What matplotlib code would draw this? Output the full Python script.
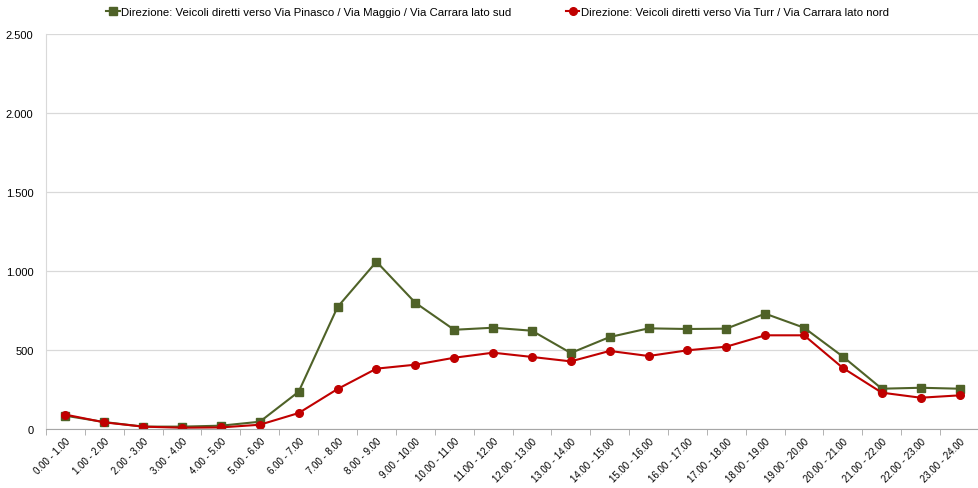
import numpy as np
import matplotlib
matplotlib.use('Agg')
import matplotlib.pyplot as plt
from matplotlib.ticker import FuncFormatter, FixedLocator

plt.rcParams['font.family'] = ['Liberation Sans', 'DejaVu Sans']

fasce = ['%d.00 - %d.00' % (h, h + 1) for h in range(24)]

sud = [84, 44, 15, 15, 21, 46, 236, 772, 1059, 799, 628, 641,
       622, 481, 582, 637, 633, 635, 730, 641, 458, 255, 261, 255]
nord = [91, 42, 15, 8, 10, 27, 101, 253, 382, 407, 451, 483,
        456, 428, 494, 462, 498, 521, 593, 593, 386, 230, 198, 213]

lab_sud = 'Direzione: Veicoli diretti verso Via Pinasco / Via Maggio / Via Carrara lato sud'
lab_nord = 'Direzione: Veicoli diretti verso Via Turr / Via Carrara lato nord'

fig = plt.figure(figsize=(9.79, 4.89), dpi=100)
ax = fig.add_axes([46 / 979, 1 - 430 / 489, 1 - 46 / 979, (430 - 35) / 489])

x = np.arange(len(fasce))
ax.plot(x, sud, color='#4F6228', marker='s', markersize=5.5, linewidth=1.5, label=lab_sud)
ax.plot(x, nord, color='#C00000', marker='o', markersize=5.5, linewidth=1.5, label=lab_nord)

ax.set_xlim(-0.5, len(fasce) - 0.5)
ax.set_ylim(0, 2500)
ax.set_yticks(range(0, 2501, 500))
ax.yaxis.set_major_formatter(FuncFormatter(lambda v, p: '{:,.0f}'.format(v).replace(',', '.')))
ax.grid(axis='y', color='#D9D9D9', linewidth=0.9)
ax.set_axisbelow(True)

ax.set_xticks(x)
ax.set_xticklabels(fasce, rotation=45, ha='right', rotation_mode='anchor', fontsize=7)
ax.tick_params(axis='x', which='major', length=0, pad=5)
ax.xaxis.set_minor_locator(FixedLocator(np.arange(-0.5, len(fasce), 1)))
ax.tick_params(axis='x', which='minor', length=4, color='#A6A6A6')
ax.tick_params(axis='y', length=0, labelsize=8, pad=9)

for s in ['top', 'right']:
    ax.spines[s].set_visible(False)
ax.spines['bottom'].set_color('#A6A6A6')
ax.spines['left'].set_color('#D9D9D9')

fig.legend(loc='upper center', bbox_to_anchor=(0.508, 1.005), ncol=2, frameon=False,
           fontsize=8.2, handlelength=1.2, handletextpad=0.1, columnspacing=4.8)

fig.savefig('out.png', dpi=100)
